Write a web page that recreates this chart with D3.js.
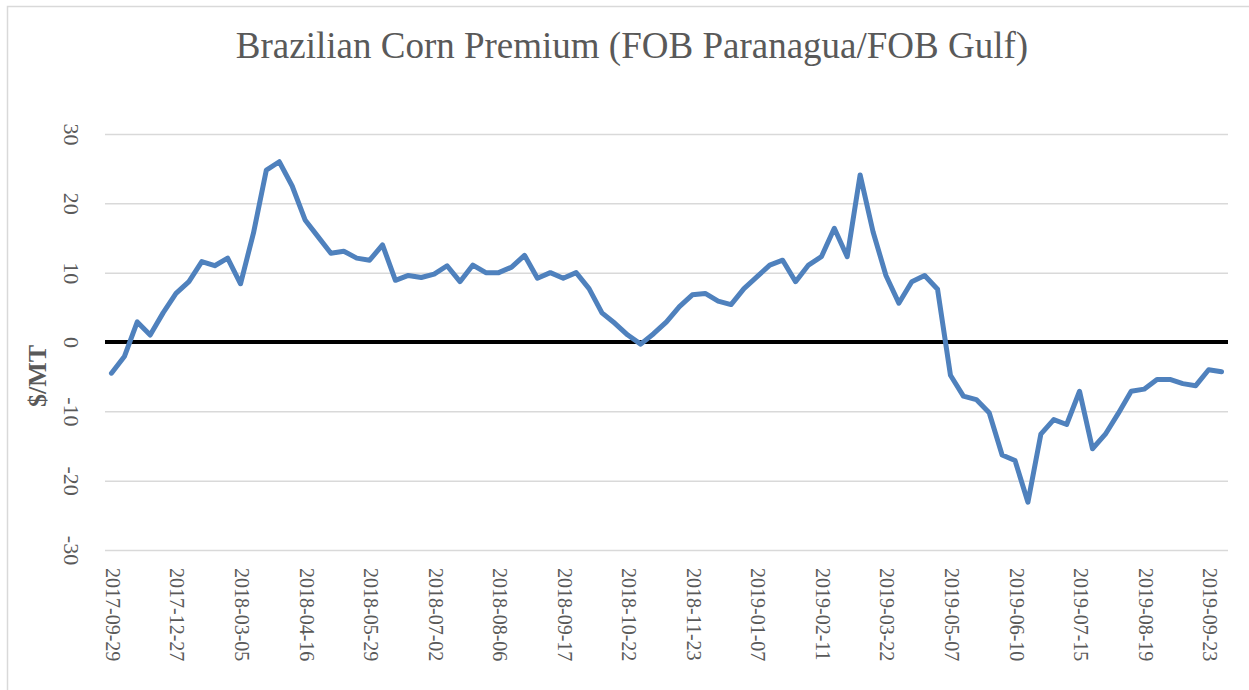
<!DOCTYPE html>
<html>
<head>
<meta charset="utf-8">
<script src="https://cdn.jsdelivr.net/npm/d3@7/dist/d3.min.js"></script>
<style>
  body { margin: 0; background: #fff; }
  svg text { font-family: "Liberation Serif", "Times New Roman", serif; fill: #595959; }
</style>
</head>
<body>
<div id="chart"></div>
<script>

const chartTitle = "Brazilian Corn Premium (FOB Paranagua/FOB Gulf)";
const yLabel = "$/MT";
const yTicks = [30, 20, 10, 0, -10, -20, -30];

// one label every 5 observations
const tickEvery = 5;
const tickLabels = [
    "2017-09-29", "2017-12-27", "2018-03-05", "2018-04-16", "2018-05-29", "2018-07-02",
    "2018-08-06", "2018-09-17", "2018-10-22", "2018-11-23", "2019-01-07", "2019-02-11",
    "2019-03-22", "2019-05-07", "2019-06-10", "2019-07-15", "2019-08-19", "2019-09-23"
];

// weekly premium, $/MT
const premium = [
    -4.5, -2.1, 2.9, 1.0, 4.2, 7.0, 8.7, 11.6, 11.0, 12.1,
    8.4, 15.7, 24.8, 26.0, 22.5, 17.6, 15.2, 12.8, 13.1, 12.1,
    11.8, 14.0, 8.9, 9.6, 9.3, 9.8, 11.0, 8.7, 11.1, 10.0,
    10.0, 10.8, 12.5, 9.2, 10.0, 9.2, 10.0, 7.7, 4.2, 2.7,
    1.0, -0.3, 1.2, 2.9, 5.1, 6.8, 7.0, 5.9, 5.4, 7.7,
    9.4, 11.1, 11.8, 8.7, 11.1, 12.3, 16.4, 12.3, 24.1, 15.9,
    9.6, 5.6, 8.7, 9.6, 7.6, -4.8, -7.8, -8.3, -10.2, -16.3,
    -17.1, -23.1, -13.3, -11.2, -11.9, -7.1, -15.4, -13.3, -10.3, -7.1,
    -6.8, -5.4, -5.4, -6.0, -6.3, -4.0, -4.3
];

const width = 1249, height = 690;
const plot = {left: 105, right: 1228, top: 134, bottom: 550};

const svg = d3.select("#chart")
    .append("svg")
    .attr("width", width)
    .attr("height", height);

// chart frame (cropped at right/bottom)
svg.append("rect")
    .attr("x", 7.5).attr("y", 6.5)
    .attr("width", 1400).attr("height", 900)
    .attr("fill", "none")
    .attr("stroke", "#d9d9d9")
    .attr("stroke-width", 1.5);

const x = d3.scalePoint()
    .domain(d3.range(premium.length))
    .range([plot.left, plot.right])
    .padding(0.5);

const y = d3.scaleLinear()
    .domain([-30, 30])
    .range([plot.bottom, plot.top]);

// gridlines + y tick labels
const yAxis = svg.append("g")
    .attr("transform", `translate(${plot.left},0)`)
    .call(d3.axisLeft(y)
        .tickValues(yTicks)
        .tickSize(-(plot.right - plot.left))
        .tickPadding(0)
        .tickFormat(d => String(d)));

yAxis.select(".domain").remove();
yAxis.selectAll(".tick line")
    .attr("stroke", "#d9d9d9")
    .attr("stroke-width", 1.5);
yAxis.selectAll(".tick text")
    .attr("x", null)
    .attr("dy", "0.35em")
    .attr("text-anchor", "middle")
    .attr("transform", "translate(-33,0) rotate(90)")
    .style("font-size", "22px");

// x labels
const xAxis = svg.append("g")
    .attr("transform", `translate(0,${plot.bottom})`)
    .call(d3.axisBottom(x)
        .tickValues(tickLabels.map((d, i) => i * tickEvery))
        .tickSize(0)
        .tickFormat(i => tickLabels[i / tickEvery]));

xAxis.select(".domain").remove();
xAxis.selectAll(".tick text")
    .attr("y", null)
    .attr("dy", "0.35em")
    .attr("text-anchor", "start")
    .attr("transform", "translate(1,18) rotate(90)")
    .style("font-size", "20px");

// zero line
svg.append("line")
    .attr("x1", plot.left).attr("x2", plot.right)
    .attr("y1", y(0)).attr("y2", y(0))
    .attr("stroke", "#000")
    .attr("stroke-width", 4);

const line = d3.line()
    .x((d, i) => x(i))
    .y(d => y(d));

svg.append("path")
    .datum(premium)
    .attr("d", line)
    .attr("fill", "none")
    .attr("stroke", "#4f81bd")
    .attr("stroke-width", 5)
    .attr("stroke-linejoin", "round")
    .attr("stroke-linecap", "round");

svg.append("text")
    .attr("x", 632)
    .attr("y", 58)
    .attr("text-anchor", "middle")
    .style("font-size", "37px")
    .text(chartTitle);

svg.append("text")
    .attr("transform", "translate(37,376) rotate(-90)")
    .attr("dy", "0.35em")
    .attr("text-anchor", "middle")
    .style("font-size", "26px")
    .style("font-weight", "bold")
    .text(yLabel);

</script>
</body>
</html>
